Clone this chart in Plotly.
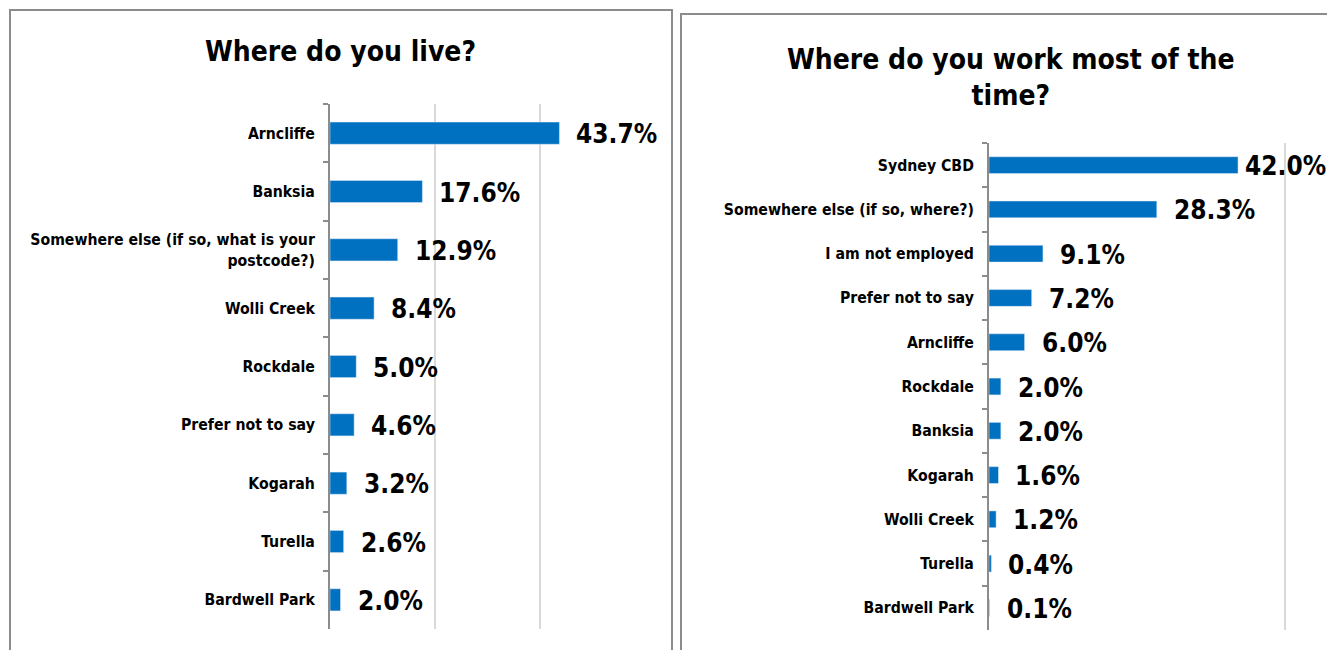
import plotly.graph_objects as go

W, H = 1327, 650

live_categories = ["Arncliffe", "Banksia", "Somewhere else (if so, what is your<br>postcode?)",
                   "Wolli Creek", "Rockdale", "Prefer not to say", "Kogarah", "Turella", "Bardwell Park"]
live_values = [43.7, 17.6, 12.9, 8.4, 5.0, 4.6, 3.2, 2.6, 2.0]

work_categories = ["Sydney CBD", "Somewhere else (if so, where?)", "I am not employed", "Prefer not to say",
                   "Arncliffe", "Rockdale", "Banksia", "Kogarah", "Wolli Creek", "Turella", "Bardwell Park"]
work_values = [42.0, 28.3, 9.1, 7.2, 6.0, 2.0, 2.0, 1.6, 1.2, 0.4, 0.1]

titles = ["Where do you live?", "Where do you work most of the<br>time?"]

BLUE = "#0070C0"
FONT = "DejaVu Sans Condensed, DejaVu Sans, sans-serif"

def px_x(p):
    return p / W

def px_y(p):
    return 1 - p / H

fig = go.Figure()
fig.add_trace(go.Bar(x=live_values, y=live_categories, orientation="h",
                     marker=dict(color=BLUE), xaxis="x", yaxis="y", hoverinfo="x+y"))
fig.add_trace(go.Bar(x=work_values, y=work_categories, orientation="h",
                     marker=dict(color=BLUE), xaxis="x2", yaxis="y2", hoverinfo="x+y"))

annotations = []
for v, c in zip(live_values, live_categories):
    annotations.append(dict(x=v, y=c, xref="x", yref="y", text="<b>%.1f%%</b>" % v,
                            showarrow=False, xanchor="left", yanchor="middle", xshift=15, yshift=-1,
                            font=dict(family=FONT, size=26, color="#000")))
for v, c in zip(work_values, work_categories):
    annotations.append(dict(x=v, y=c, xref="x2", yref="y2", text="<b>%.1f%%</b>" % v,
                            showarrow=False, xanchor="left", yanchor="middle",
                            xshift=5 if v > 40 else 15, yshift=-1,
                            font=dict(family=FONT, size=26, color="#000")))

annotations.append(dict(x=px_x(340), y=px_y(52), xref="paper", yref="paper", text="<b>%s</b>" % titles[0],
                        showarrow=False, xanchor="center", yanchor="middle",
                        font=dict(family=FONT, size=28, color="#000")))
annotations.append(dict(x=px_x(1011), y=px_y(77), xref="paper", yref="paper", text="<b>%s</b>" % titles[1],
                        showarrow=False, xanchor="center", yanchor="middle",
                        font=dict(family=FONT, size=28, color="#000")))

shapes = [
    dict(type="rect", xref="paper", yref="paper", x0=px_x(10), x1=px_x(672), y0=px_y(10), y1=px_y(660),
         line=dict(color="#8c8c8c", width=2), fillcolor="rgba(0,0,0,0)", layer="below"),
    dict(type="rect", xref="paper", yref="paper", x0=px_x(681), x1=px_x(1340), y0=px_y(14), y1=px_y(660),
         line=dict(color="#8c8c8c", width=2), fillcolor="rgba(0,0,0,0)", layer="below"),
]

axis_common_x = dict(showticklabels=False, showline=False, zeroline=False, showgrid=True,
                     gridcolor="#d9d9d9", gridwidth=2, ticks="", fixedrange=True)
axis_common_y = dict(autorange="reversed", showline=True, linecolor="#8c8c8c", linewidth=2,
                     ticks="outside", tickson="boundaries", ticklen=5, tickcolor="#8c8c8c", tickwidth=2,
                     ticklabelstandoff=10,
                     tickfont=dict(family=FONT, size=15.7, color="#000", weight="bold"),
                     showgrid=False, zeroline=False, fixedrange=True)

fig.update_layout(
    width=W, height=H,
    margin=dict(l=0, r=0, t=0, b=0),
    paper_bgcolor="white", plot_bgcolor="white",
    showlegend=False,
    bargap=0.62,
    xaxis=dict(domain=[px_x(330), px_x(645)], range=[0, 60], tickvals=[0, 20, 40, 60], anchor="y", **axis_common_x),
    yaxis=dict(domain=[px_y(629), px_y(104)], anchor="x", **axis_common_y),
    xaxis2=dict(domain=[px_x(989), 1.0], range=[0, 57], tickvals=[0, 50], anchor="y2", **axis_common_x),
    yaxis2=dict(domain=[px_y(630), px_y(143)], anchor="x2", **axis_common_y),
    annotations=annotations,
    shapes=shapes,
)

fig.write_html("out.html")
